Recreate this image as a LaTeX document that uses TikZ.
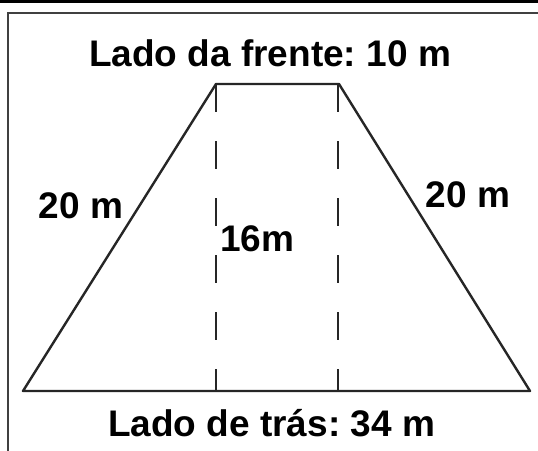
\documentclass[tikz,border=0pt]{standalone}
\usepackage{fontspec}
\setmainfont{Liberation Sans}
\frenchspacing
\tikzset{
  lbl/.style={font=\fontsize{37}{40}\selectfont\bfseries, inner sep=0pt, anchor=base},
  side/.style={line width=2.4pt, line join=round, black!85},
  hgt/.style={line width=2.2pt, black!85, dash pattern=on 28pt off 29pt},
  frame/.style={line width=1.6pt, black!75}
}
\begin{document}
\begin{tikzpicture}[x=1pt,y=-1pt]
\useasboundingbox (0,0) rectangle (538,450);
\fill[white] (0,0) rectangle (538,450);
% top band and frame
\fill[black] (0,0) rectangle (538,2.8);
\draw[frame] (540,12.8) -- (8.2,12.8) -- (8.2,452);
% trapezoid corners
\coordinate (BL) at (23,391);
\coordinate (TL) at (216,84);
\coordinate (TR) at (339,84);
\coordinate (BR) at (530,391);
\coordinate (FL) at (216,391);
\coordinate (FR) at (338,391);
\coordinate (TR2) at (338,84);
\draw[side] (BL) -- (TL) -- (TR) -- (BR) -- cycle;
\draw[hgt] (TL) -- (FL);
\draw[hgt] (TR2) -- (FR);
% labels
\node[lbl] (front) at (270,66.7) {Lado da frente: 10 m};
\node[lbl] (back) at (271.5,436.7) {Lado de trás: 34 m};
\node[lbl] (left) at (81,218) {20 m};
\node[lbl] (right) at (468,207) {20 m};
\node[lbl,anchor=base west] (h) at (220,251.7) {16m};
\end{tikzpicture}
\end{document}
